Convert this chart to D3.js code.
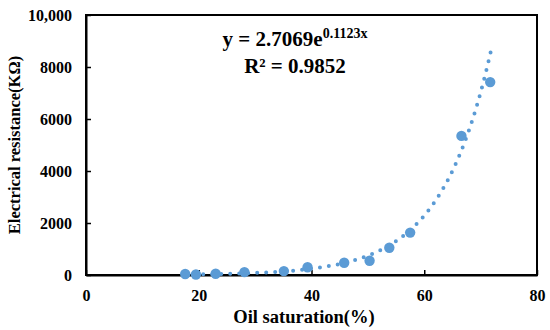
<!DOCTYPE html>
<html>
<head>
<meta charset="utf-8">
<script src="https://cdn.jsdelivr.net/npm/d3@7"></script>
<style>
  body { margin: 0; background: #fff; }
  text { font-family: "Liberation Serif", "Times New Roman", serif; font-weight: bold; fill: #000; }
</style>
</head>
<body>
<svg id="chart"></svg>
<script>
// Measured points (oil saturation %, resistance kΩ)
const saturation = [17.6, 19.5, 23.0, 28.1, 35.1, 39.3, 45.8, 50.3, 53.8, 57.5, 66.6, 71.7];
const resistance = [40, 20, 50, 110, 150, 300, 470, 550, 1050, 1630, 5350, 7420];
const xTicks = [0, 20, 40, 60, 80];
const yTicks = [0, 2000, 4000, 6000, 8000, 10000];
// Fitted trend y = a * e^(b x)
const fitA = 2.7069, fitB = 0.1123;
const fitRange = [17.6, 72.1];

const config = {
  width: 550, height: 330,
  margin: { top: 15, right: 13, bottom: 55, left: 86 },
  color: "#5b9bd5"
};

const width = config.width - config.margin.left - config.margin.right;
const height = config.height - config.margin.top - config.margin.bottom;

const svg = d3.select("#chart")
  .attr("width", config.width)
  .attr("height", config.height);

const chart = svg.append("g")
  .attr("transform", `translate(${config.margin.left},${config.margin.top})`);

const xScale = d3.scaleLinear().domain([0, 80]).range([0, width]);
const yScale = d3.scaleLinear().domain([0, 10000]).range([height, 0]);

// frame
chart.append("rect")
  .attr("width", width).attr("height", height)
  .attr("fill", "none").attr("stroke", "#000").attr("stroke-width", 2);

// axes, ticks pointing inward
const xAxis = d3.axisBottom(xScale).tickValues(xTicks).tickSizeInner(-5).tickSizeOuter(0).tickPadding(12);
const yAxis = d3.axisLeft(yScale).tickValues(yTicks).tickSizeInner(-5).tickSizeOuter(0).tickPadding(14)
  .tickFormat(d => d === 10000 ? "10,000" : d3.format("d")(d));

const xAxisG = chart.append("g").attr("transform", `translate(0,${height})`).call(xAxis);
const yAxisG = chart.append("g").call(yAxis);

[xAxisG, yAxisG].forEach(g => {
  g.select(".domain").attr("stroke", "#000").attr("stroke-width", 2);
  g.selectAll(".tick line").attr("stroke", "#000").attr("stroke-width", 1.5);
  g.selectAll(".tick text")
    .attr("font-family", "Liberation Serif")
    .attr("font-weight", "bold")
    .attr("font-size", 16)
    .attr("fill", "#000");
});
xAxisG.selectAll(".tick text").attr("dy", "0.85em");

// dotted trend line
const fitData = d3.range(fitRange[0], fitRange[1] + 0.001, 0.1).map(x => [x, fitA * Math.exp(fitB * x)]);
fitData.push([fitRange[1], fitA * Math.exp(fitB * fitRange[1])]);
const line = d3.line().x(d => xScale(d[0])).y(d => yScale(d[1]));
chart.append("path")
  .datum(fitData)
  .attr("d", line)
  .attr("fill", "none")
  .attr("stroke", config.color)
  .attr("stroke-width", 4)
  .attr("stroke-linecap", "round")
  .attr("stroke-dasharray", "0 9");

// data points
chart.selectAll(".pt")
  .data(saturation.map((s, i) => ({ x: s, y: resistance[i] })))
  .join("circle")
  .attr("class", "pt")
  .attr("cx", d => xScale(d.x))
  .attr("cy", d => yScale(d.y))
  .attr("r", 5.2)
  .attr("fill", config.color);

// equation
const eq = chart.append("text")
  .attr("x", 209).attr("y", 31)
  .attr("text-anchor", "middle")
  .attr("font-size", 21);
eq.append("tspan").text("y = 2.7069e");
eq.append("tspan").attr("font-size", 14).attr("dy", -8).text("0.1123x");

chart.append("text")
  .attr("x", 209).attr("y", 58)
  .attr("text-anchor", "middle")
  .attr("font-size", 21)
  .text("R² = 0.9852");

// axis titles
svg.append("text")
  .attr("x", 304).attr("y", 323)
  .attr("text-anchor", "middle")
  .attr("font-size", 18.5)
  .text("Oil saturation(%)");

svg.append("text")
  .attr("transform", "translate(20,145) rotate(-90)")
  .attr("text-anchor", "middle")
  .attr("font-size", 16.5)
  .text("Electrical resistance(KΩ)");
</script>
</body>
</html>
